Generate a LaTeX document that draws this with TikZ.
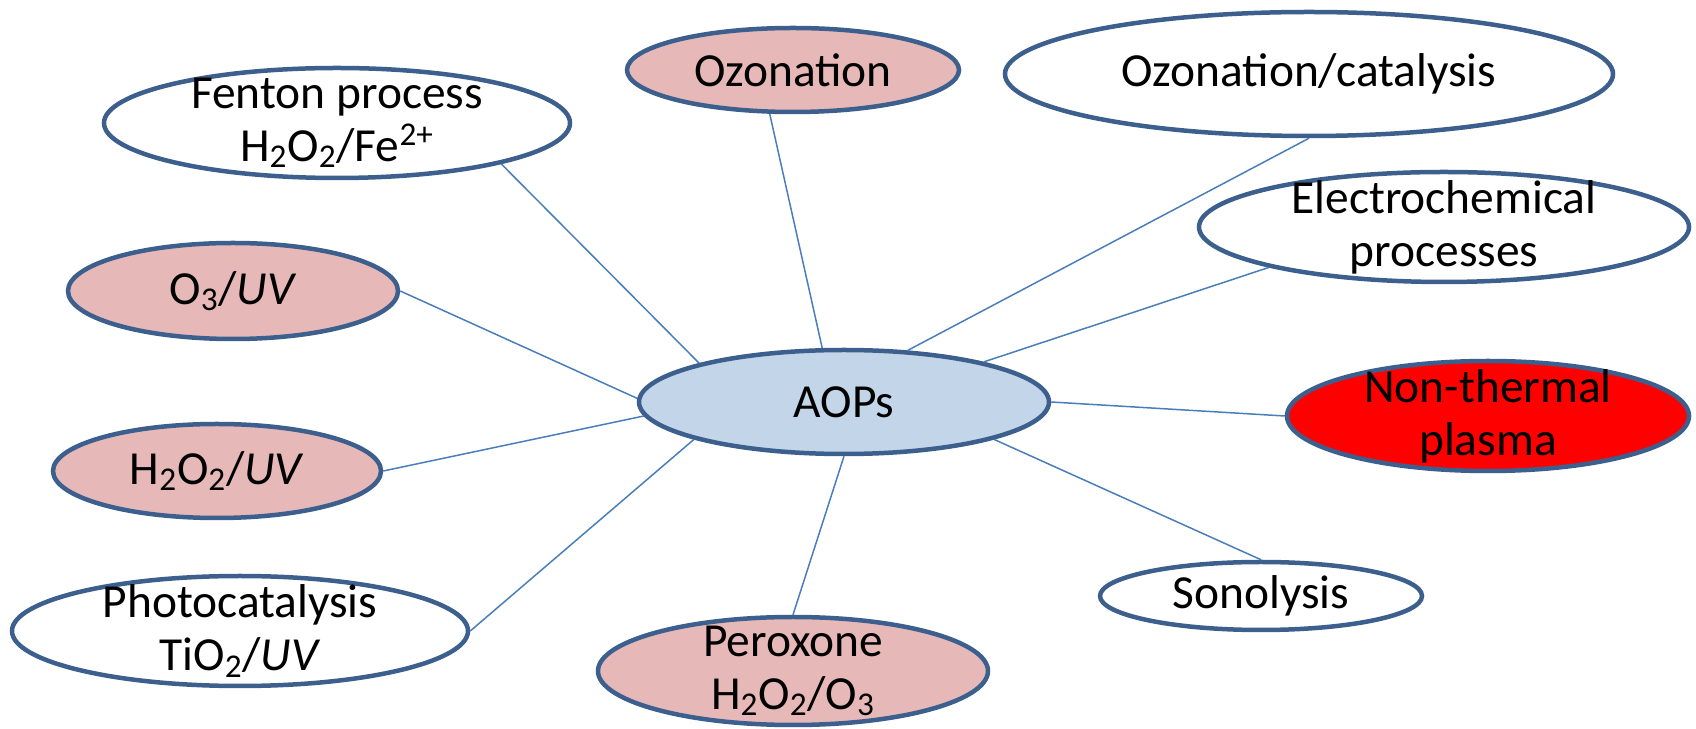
\documentclass[tikz,border=0pt]{standalone}
\usepackage{fontspec}
\setmainfont{Carlito}
\usepackage{xcolor}
\usepackage{tikz}
\usetikzlibrary{positioning,shapes.geometric}

\definecolor{rimblue}{HTML}{3C5F8E}
\definecolor{linkblue}{HTML}{4A7EBB}
\definecolor{rosefill}{HTML}{E6B9B8}
\definecolor{aopsfill}{HTML}{C3D5E8}

\begin{document}
\begin{tikzpicture}[x=0.2mm, y=-0.2mm,
  proc/.style={ellipse, draw=rimblue, line width=0.9mm, fill=white, inner xsep=0pt, inner ysep=-9pt, align=center, font=\fontsize{27}{30}\selectfont},
  link/.style={draw=linkblue, line width=0.3mm}]
\useasboundingbox (0,0) rectangle (1696,729);

\node (aops) [proc, fill=aopsfill, minimum width=82mm, minimum height=20.8mm] at (844,402) {AOPs};
\node (fenton) [proc, minimum width=93.2mm, minimum height=22mm] at (337,123) {Fenton process\\H\textsubscript{2}O\textsubscript{2}/Fe\textsuperscript{2+}};
\node (ozon) [proc, fill=rosefill, minimum width=66.4mm, minimum height=16.8mm] at (793,70) {Ozonation};
\node (ocat) [proc, minimum width=121.6mm, minimum height=24.8mm] at (1309,74) {Ozonation/catalysis};
\node (electro) [proc, minimum width=98mm, minimum height=22mm] at (1444,227) {Electrochemical\\processes};
\node (plasma) [proc, fill=red, minimum width=80.4mm, minimum height=22mm] at (1488,416) {Non-thermal\\plasma};
\node (sono) [proc, minimum width=64.4mm, minimum height=13.6mm] at (1261,596) {Sonolysis};
\node (perox) [proc, fill=rosefill, minimum width=78mm, minimum height=21.6mm] at (793,671) {Peroxone\\H\textsubscript{2}O\textsubscript{2}/O\textsubscript{3}};
\node (photo) [proc, minimum width=91.2mm, minimum height=22mm] at (240,631) {Photocatalysis\\TiO\textsubscript{2}/\textit{UV}};
\node (hpuv) [proc, fill=rosefill, minimum width=65.6mm, minimum height=18.8mm] at (217,471) {H\textsubscript{2}O\textsubscript{2}/\textit{UV}};
\node (o3uv) [proc, fill=rosefill, minimum width=66mm, minimum height=19.2mm] at (233,291) {O\textsubscript{3}/\textit{UV}};

\draw[link] (fenton.-14) -- (aops.165);
\draw[link] (ozon.242) -- (aops.112);
\draw[link] (o3uv.0) -- (aops.179);
\draw[link] (ocat.-90) -- (aops.39);
\draw[link] (electro.193) -- (aops.16);
\draw[link] (plasma.180) -- (aops.0);
\draw[link] (sono.90) -- (aops.-14);
\draw[link] (perox.90) -- (aops.-90);
\draw[link] (photo.0) -- (aops.194);
\draw[link] (hpuv.0) -- (aops.184);
\end{tikzpicture}
\end{document}
